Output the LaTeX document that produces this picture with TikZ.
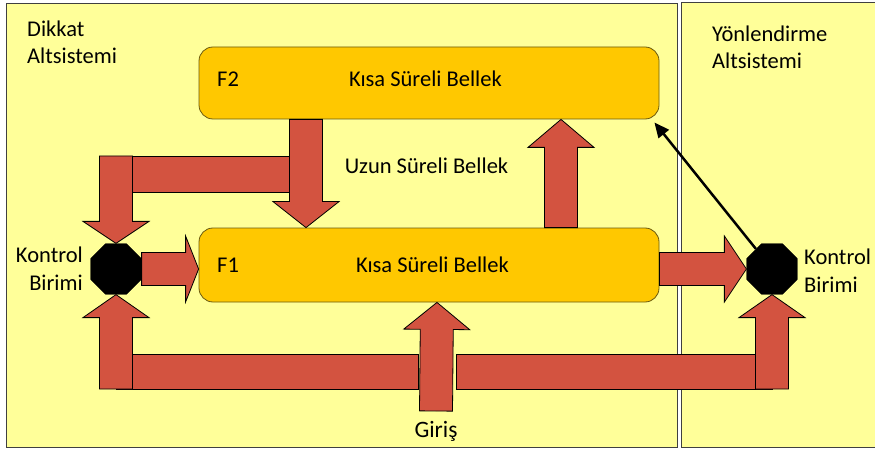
\documentclass[tikz,border=0pt]{standalone}
\usepackage{fontspec}
\setmainfont{Carlito}
\usetikzlibrary{calc}
\usetikzlibrary{shapes.geometric}
\usetikzlibrary{arrows.meta}

\definecolor{panelyellow}{HTML}{FFFF99}
\definecolor{boxgold}{HTML}{FFC800}
\definecolor{boxedge}{HTML}{6B5A10}
\definecolor{arrowred}{HTML}{D35340}

% block arrow: [head length]{from}{to}
\newcommand{\blockarrow}[3][26pt]{%
  \path ($(#3)!#1!(#2)$) coordinate (ba-base);
  \draw[block] ($(#2)!16.5pt!90:(#3)$) -- ($(ba-base)!16.5pt!90:(#3)$)
    -- ($(ba-base)!33pt!90:(#3)$) -- (#3) -- ($(ba-base)!33pt!-90:(#3)$)
    -- ($(ba-base)!16.5pt!-90:(#3)$) -- ($(#2)!16.5pt!-90:(#3)$) -- cycle;
}

\begin{document}
\begin{tikzpicture}[x=1pt, y=-1pt,
    font=\fontsize{22.5}{27.5}\selectfont,
    panel/.style={fill=panelyellow, draw=black!75, line width=1pt},
    memory/.style={draw=boxedge, fill=boxgold, rounded corners=14pt, line width=0.8pt,
        minimum width=460pt, inner sep=0pt},
    block/.style={draw=black, fill=arrowred, line width=0.8pt, line join=miter},
    bus/.style={draw=black, fill=arrowred, line width=0.8pt},
    control/.style={regular polygon, regular polygon sides=8, minimum size=55pt,
        fill=black, inner sep=0pt},
    label/.style={inner sep=0pt}]
    \useasboundingbox (0,0) rectangle (875,449);

    % the two subsystems
    \draw[panel] (6,4) rectangle (677,447);
    \draw[panel] (880,3) -- (681,3) -- (681,447) -- (880,447);
    \node[label, anchor=base west, align=left] (dikkat) at (27,64) {Dikkat\\Altsistemi};
    \node[label, anchor=base west, align=left] (yonlendirme) at (712,69) {Yönlendirme\\Altsistemi};

    % memories
    \node[memory, minimum height=72pt] (f2) at (429,83) {};
    \node[memory, minimum height=74pt] (f1) at (429,265) {};
    \node[label, anchor=base west] (f2tag) at (217,87) {F2};
    \node[label, anchor=base] (f2txt) at (425.5,87) {Kısa Süreli Bellek};
    \node[label, anchor=base west] (f1tag) at (217,272) {F1};
    \node[label, anchor=base] (f1txt) at (432.5,272) {Kısa Süreli Bellek};
    \node[label, anchor=base] (uzun) at (426.5,174) {Uzun Süreli Bellek};

    % control units
    \node[control] (kontrolL) at (116,269) {};
    \node[control] (kontrolR) at (772,269) {};
    \node[label, anchor=base east, align=right] (kontrolLtxt) at (83,290) {Kontrol\\Birimi};
    \node[label, anchor=base west, align=left] (kontrolRtxt) at (804,292) {Kontrol\\Birimi};
    \node[label, anchor=base, font=\fontsize{23.5}{28}\selectfont] (giris) at (436,437) {Giriş};

    \coordinate (f2a) at ([xshift=-123pt]f2.south);
    \coordinate (f1a) at ([xshift=-123pt]f1.north);
    \coordinate (f1b) at ([xshift=132pt]f1.north);
    \coordinate (f2b) at ([xshift=132pt]f2.south);
    \coordinate (f1c) at ([xshift=8pt]f1.south);
    \coordinate (f1in) at (kontrolL -| f1.west);
    \coordinate (f1out) at (f1.east |- kontrolR);
    \coordinate (lTop) at (116,156);
    \coordinate (busL) at (116,389);
    \coordinate (busR) at (772,389);
    \coordinate (girisIn) at (436,411);

    % bars
    \draw[bus] (lTop) rectangle (306,192);
    \draw[bus] (116,354) rectangle (418,389);
    \draw[bus] (456,354) rectangle (busR);

    % block arrows
    \blockarrow[22pt]{lTop}{kontrolL.north}
    \blockarrow[26pt]{f2a}{f1a}
    \blockarrow[28pt]{f1b}{f2b}
    \blockarrow[23pt]{busL}{kontrolL.south}
    \blockarrow[13pt]{kontrolL.east}{f1in}
    \blockarrow[22pt]{f1out}{kontrolR.west}
    \blockarrow[23pt]{busR}{kontrolR.south}
    \blockarrow[27pt]{girisIn}{f1c}

    \node[control] at (kontrolL) {};
    \node[control] at (kontrolR) {};

    \draw[line width=2.5pt, -{Triangle[length=15pt,width=13pt]}] (kontrolR)
        -- ([xshift=-5pt,yshift=-3pt]f2.south east);
\end{tikzpicture}
\end{document}
